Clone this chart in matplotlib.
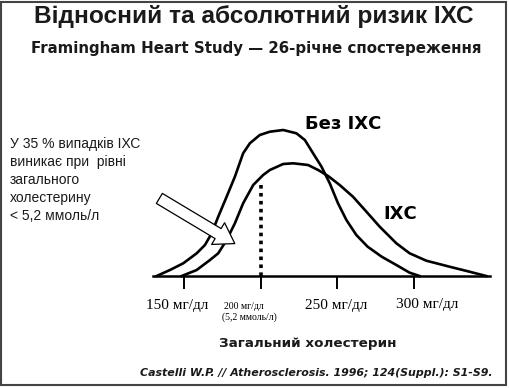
import matplotlib
matplotlib.use("Agg")
import matplotlib.pyplot as plt
from matplotlib.patches import Rectangle

# Cholesterol (mg/dl) vs relative frequency
no_chd_x = [131.8, 140.5, 149.2, 158.0, 163.4, 167.8, 172.1, 177.6, 183.0, 188.4, 192.8, 199.3,
            205.9, 214.6, 223.3, 228.8, 234.2, 239.7, 245.1, 250.5, 256.0, 262.5, 269.9, 279.1,
            288.7, 297.4, 303.9]
no_chd_y = [0, 6, 12.7, 22.7, 31, 42.7, 59.3, 79.3, 99.3, 122.7, 132.7, 141,
            144.3, 146, 142.7, 136, 122.7, 109.3, 92.7, 72.7, 56, 41, 29.3, 19.3,
            11, 3.3, 0]

chd_x = [148.2, 158.0, 166.7, 172.1, 177.6, 183.0, 188.4, 195.0, 201.5, 205.9, 214.6, 221.1,
         230.9, 237.5, 244.0, 251.6, 260.3, 269.1, 277.8, 288.7, 297.4, 308.3, 323.5, 336.6, 347.5]
chd_y = [0, 6, 16, 22.7, 36, 52.7, 72.7, 91, 101, 106, 112, 112.7,
         111, 106, 100, 91, 79.3, 64.3, 49.3, 32.7, 22.7, 15.3, 9.3, 4.3, 0]

cutoff_x = 200
cutoff_y = 91

ticks = [150, 200, 250, 300]
tick_labels = ["150 мг/дл", "200 мг/дл", "250 мг/дл", "300 мг/дл"]
cutoff_note = "(5,2 ммоль/л)"

fig = plt.figure(figsize=(5.1, 3.88), dpi=100)
ax = fig.add_axes([153 / 510, 112 / 388, 337 / 510, 160 / 388])

ax.plot(no_chd_x, no_chd_y, color="black", lw=1.9, clip_on=False, solid_joinstyle="round")
ax.plot(chd_x, chd_y, color="black", lw=1.9, clip_on=False, solid_joinstyle="round")
ax.plot([cutoff_x, cutoff_x], [0, cutoff_y], color="black", lw=2.6, ls=(0, (1, 1.2)), clip_on=False)

ax.set_xlim(129.4, 350)
ax.set_ylim(0, 160)
for s in ["top", "left", "right"]:
    ax.spines[s].set_visible(False)
ax.spines["bottom"].set_linewidth(1.8)
ax.set_yticks([])
ax.set_xticks(ticks)
ax.set_xticklabels([])
ax.tick_params(axis="x", direction="out", length=9, width=1.4)

# tick labels (slightly shifted like in the original)
serif = "Liberation Serif"
ax.annotate(tick_labels[0], (ticks[0], 0), xytext=(-5, -26), textcoords="offset points",
            ha="center", va="bottom", fontsize=11, family=serif)
ax.annotate(tick_labels[1], (ticks[1], 0), xytext=(-12, -25), textcoords="offset points",
            ha="center", va="bottom", fontsize=7, family=serif)
ax.annotate(cutoff_note, (ticks[1], 0), xytext=(-8, -33), textcoords="offset points",
            ha="center", va="bottom", fontsize=7, family=serif)
ax.annotate(tick_labels[2], (ticks[2], 0), xytext=(-1, -26), textcoords="offset points",
            ha="center", va="bottom", fontsize=11, family=serif)
ax.annotate(tick_labels[3], (ticks[3], 0), xytext=(10, -25), textcoords="offset points",
            ha="center", va="bottom", fontsize=11, family=serif)

# curve labels
ax.text(254, 152, "Без ІХС", fontsize=13, fontweight="bold", ha="center", va="center")
ax.text(291.5, 62, "ІХС", fontsize=13, fontweight="bold", ha="center", va="center")

# white arrow
ax.annotate("", xy=(184.5, 31), xytext=(132, 79),
            arrowprops=dict(arrowstyle="simple,head_length=1.0,head_width=1.3,tail_width=0.6",
                            fc="white", ec="black", lw=0.9, mutation_scale=14),
            annotation_clip=False)

# titles
fig.text(253.5 / 510, 1 - 17 / 388, "Відносний та абсолютний ризик ІХС", ha="center", va="center",
         fontsize=17.6, fontweight="bold", family="Liberation Sans", color="#1a1a1a")
fig.text(256.5 / 510, 1 - 48 / 388, "Framingham Heart Study — 26-річне спостереження",
         ha="center", va="center", fontsize=10.8, fontweight="bold", family="DejaVu Sans",
         color="#1a1a1a")

fig.text(10 / 510, 1 - 137 / 388,
         "У 35 % випадків ІХС\nвиникає при  рівні\nзагального\nхолестерину\n< 5,2 ммоль/л",
         ha="left", va="top", fontsize=10, family="Liberation Sans", linespacing=1.37,
         color="#1a1a1a")

fig.text(308 / 510, 1 - 343 / 388, "Загальний холестерин", ha="center", va="center",
         fontsize=9.7, fontweight="bold", family="DejaVu Sans", color="#1a1a1a")
fig.text(493 / 510, 1 - 373 / 388, "Castelli W.P. // Atherosclerosis. 1996; 124(Suppl.): S1-S9.",
         ha="right", va="center", fontsize=7.9, fontweight="bold", style="italic",
         family="DejaVu Sans", color="#1a1a1a")

# picture frame
fig.patches.append(Rectangle((1.5 / 510, 1 - 385 / 388), 504.5 / 510, 383 / 388,
                             transform=fig.transFigure, fill=False, ec="#444444", lw=1.5))

fig.savefig("out.png", dpi=100)
